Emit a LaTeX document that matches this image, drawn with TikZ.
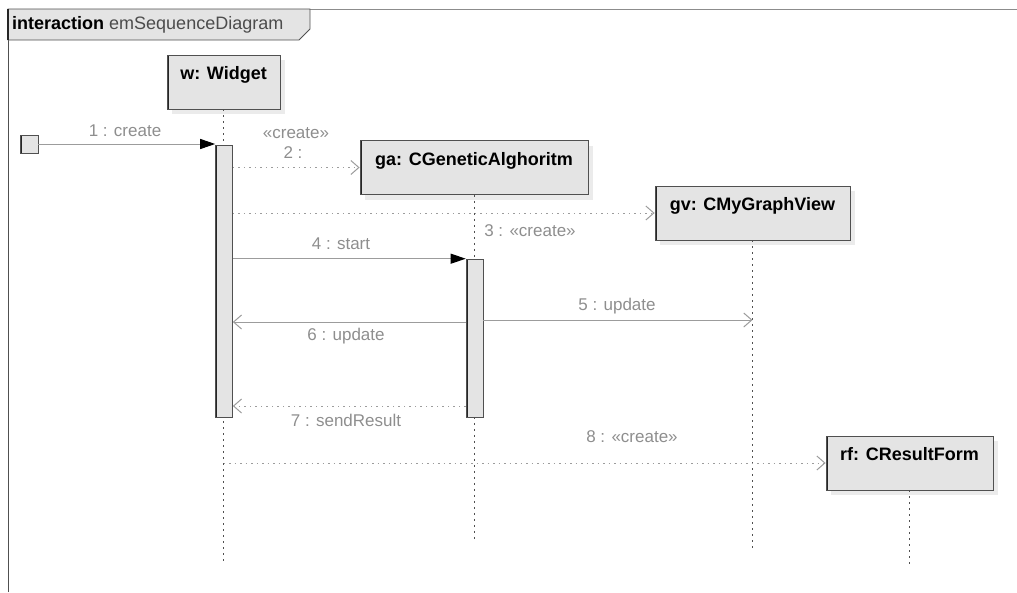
\documentclass[tikz,border=0pt]{standalone}
\usepackage{fontspec}
\setmainfont{Liberation Sans}
\usetikzlibrary{arrows.meta,shadows}
\definecolor{boxgray}{HTML}{E4E4E4}
\definecolor{edgegray}{HTML}{505050}
\definecolor{msggray}{HTML}{9C9C9C}
\definecolor{labelgray}{HTML}{8E8E8E}

\begin{document}
\begin{tikzpicture}[x=1pt,y=-1pt,
  darkedge/.style={path picture={\draw[line width=3pt,black!85] (path picture bounding box.north west) -- (path picture bounding box.south west);}},
  obj/.style={draw=edgegray,fill=boxgray,line width=0.8pt,minimum width=#1,minimum height=54pt,inner ysep=12pt,text height=12.5pt,text depth=17.5pt,font=\fontsize{18}{20}\selectfont\bfseries,drop shadow={shadow xshift=5pt,shadow yshift=-5pt,fill=black!8,opacity=1},darkedge},
  act/.style={draw=edgegray,fill=boxgray,line width=0.6pt,minimum width=17pt,minimum height=#1,inner sep=0pt,darkedge},
  life/.style={edgegray,line width=0.8pt,dash pattern=on 2pt off 4pt},
  call/.style={msggray,line width=1pt,-{Triangle[black,length=15pt,width=10pt]}},
  async/.style={msggray,line width=1pt,-{Straight Barb[length=8pt,width=14pt]}},
  dotmsg/.style={async,dash pattern=on 1.5pt off 4pt},
  lbl/.style={text=labelgray,font=\fontsize{17}{19}\selectfont,inner sep=0pt}]
  \useasboundingbox (0,0) rectangle (1017,592);
  \draw[black!45,line width=0.8pt] (8,9) -- (1017,9);
  \draw[edgegray,line width=0.8pt] (8,592) -- (8,9);
  \draw[fill=boxgray,draw=edgegray,line width=0.8pt] (8,9) -- (310,9) -- (310,29) -- (299,40) -- (8,40) -- cycle;
  \draw[black!85,line width=2pt] (8,9) -- (8,40);
  \node[anchor=west,inner sep=0pt,font=\fontsize{18}{20}\selectfont] (title) at (12,25) {\textbf{interaction} \textcolor{black!70}{emSequenceDiagram}};

  \node[obj=113pt] (w) at (223.5,82) {w: Widget};
  \node[obj=228pt] (ga) at (474,167.5) {ga: CGeneticAlghoritm};
  \node[obj=195pt] (gv) at (752.5,213) {gv: CMyGraphView};
  \node[obj=167pt] (rf) at (909.5,463) {rf: CResultForm};
  \node[act=18pt,minimum width=18pt] (gate) at (29,144) {};

  \draw[life] (w.south) -- ++(0,453);
  \draw[life] (ga.south) -- ++(0,346);
  \draw[life] (gv.south) -- ++(0,311);
  \draw[life] (rf.south) -- ++(0,75);

  \node[act=272pt] (wact) at (224,281) {};
  \node[act=158pt] (gaact) at (474.5,338) {};

  \coordinate (y5) at (0,320);
  \coordinate (y6) at (0,322);
  \coordinate (y7) at (0,406);

  \draw[call] (gate.east) -- (gate -| wact.west);
  \draw[dotmsg] (wact.east |- ga.west) -- (ga.west);
  \draw[dotmsg] (wact.east |- gv.west) -- (gv.west);
  \draw[call] (wact.east |- gaact.north) -- (gaact.north west);
  \draw[async] (gaact.east |- y5) -- (gv.south |- y5);
  \draw[async] (gaact.west |- y6) -- (wact.east |- y6);
  \draw[dotmsg] (gaact.west |- y7) -- (wact.east |- y7);
  \draw[dotmsg] (w.south |- rf.west) -- (rf.west);

  \node[lbl] (l1) at (125,131) {1 : create};
  \node[lbl] (l2a) at (296,133) {«create»};
  \node[lbl] (l2b) at (293,153) {2 :};
  \node[lbl] (l3) at (530,231) {3 : «create»};
  \node[lbl] (l4) at (341,244) {4 : start};
  \node[lbl] (l5) at (617,306) {5 : update};
  \node[lbl] (l6) at (346,336) {6 : update};
  \node[lbl] (l7) at (346,420) {7 : sendResult};
  \node[lbl] (l8) at (632,437) {8 : «create»};
\end{tikzpicture}
\end{document}
